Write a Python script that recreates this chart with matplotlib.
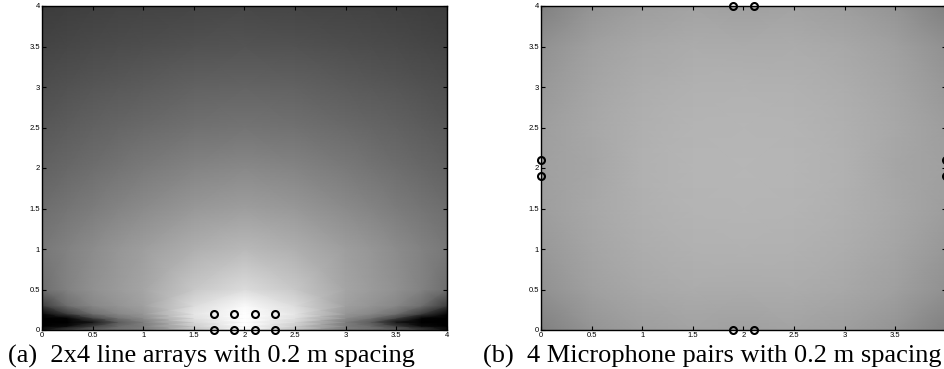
import numpy as np
import matplotlib
matplotlib.use("Agg")
import matplotlib.pyplot as plt

# grey level (0-255) of the intensity maps
xa = [0, 0.25, 0.5, 0.75, 1, 1.5, 2, 2.5, 3, 3.25, 3.5, 3.75, 4]
ya = [0, 0.05, 0.1, 0.15, 0.2, 0.3, 0.5, 1, 1.5, 2, 2.5, 3, 3.5, 4]
za = [
    [20, 70, 100, 115, 125, 195, 250, 195, 125, 115, 100, 70, 20],
    [0, 10, 60, 105, 125, 205, 255, 205, 125, 105, 60, 10, 0],
    [0, 0, 20, 90, 125, 215, 255, 215, 125, 90, 20, 0, 0],
    [0, 5, 70, 115, 140, 225, 255, 225, 140, 115, 70, 5, 0],
    [5, 60, 110, 135, 150, 230, 255, 230, 150, 135, 110, 60, 5],
    [60, 110, 135, 148, 160, 220, 250, 220, 160, 148, 135, 110, 60],
    [110, 130, 145, 155, 165, 200, 220, 200, 165, 155, 145, 130, 110],
    [120, 130, 140, 150, 158, 175, 185, 175, 158, 150, 140, 130, 120],
    [110, 117, 124, 132, 139, 152, 158, 152, 139, 132, 124, 117, 110],
    [98, 104, 110, 116, 122, 132, 137, 132, 122, 116, 110, 104, 98],
    [88, 93, 98, 102, 106, 113, 116, 113, 106, 102, 98, 93, 88],
    [78, 82, 86, 89, 92, 98, 100, 98, 92, 89, 86, 82, 78],
    [68, 71, 74, 76, 78, 82, 84, 82, 78, 76, 74, 71, 68],
    [60, 62, 64, 66, 67, 69, 71, 69, 67, 66, 64, 62, 60],
]

xb = [0, 0.5, 1, 1.5, 2, 2.5, 3, 3.5, 4]
yb = [0, 0.5, 1, 1.5, 2, 2.5, 3, 3.5, 4]
zb = [
    [128, 148, 158, 163, 160, 163, 158, 148, 128],
    [145, 160, 168, 172, 171, 172, 168, 160, 145],
    [152, 165, 173, 177, 178, 177, 173, 165, 152],
    [158, 168, 176, 180, 181, 180, 176, 168, 158],
    [160, 166, 177, 181, 182, 181, 177, 166, 160],
    [158, 168, 176, 180, 181, 180, 176, 168, 158],
    [152, 165, 173, 177, 178, 177, 173, 165, 152],
    [145, 160, 168, 172, 171, 172, 168, 160, 145],
    [128, 148, 158, 163, 160, 163, 158, 148, 128],
]

# microphone positions
mic_a_x = [1.7, 1.9, 2.1, 2.3, 1.7, 1.9, 2.1, 2.3]
mic_a_y = [0, 0, 0, 0, 0.2, 0.2, 0.2, 0.2]
mic_b_x = [1.9, 2.1, 1.9, 2.1, 0, 0, 4, 4]
mic_b_y = [0, 0, 4, 4, 1.9, 2.1, 1.9, 2.1]

ticks = [0, 0.5, 1, 1.5, 2, 2.5, 3, 3.5, 4]
tick_labels = ["0", "0.5", "1", "1.5", "2", "2.5", "3", "3.5", "4"]

captions = ["(a)  2x4 line arrays with 0.2 m spacing",
            "(b)  4 Microphone pairs with 0.2 m spacing"]

fig = plt.figure(figsize=(9.45, 3.69), dpi=100)
W, H = 945, 369
ax1 = fig.add_axes([42 / W, 39 / H, 405 / W, 324 / H])
ax2 = fig.add_axes([541 / W, 39 / H, 405 / W, 324 / H])

panels = [(ax1, xa, ya, za, mic_a_x, mic_a_y),
          (ax2, xb, yb, zb, mic_b_x, mic_b_y)]

for ax, x, y, z, mx, my in panels:
    ax.pcolormesh(x, y, np.array(z, dtype=float), shading="gouraud",
                  cmap="gray", vmin=0, vmax=255)
    ax.plot(mx, my, "o", ms=5, mfc="none", mec="black", mew=1.5,
            clip_on=False, zorder=5)
    ax.set_xlim(0, 4)
    ax.set_ylim(0, 4)
    ax.set_xticks(ticks)
    ax.set_xticklabels(tick_labels)
    ax.set_yticks(ticks)
    ax.set_yticklabels(tick_labels)
    ax.tick_params(direction="in", length=3, width=0.8, labelsize=5.5,
                   top=True, right=True, pad=1.5)
    for lab in ax.get_xticklabels() + ax.get_yticklabels():
        lab.set_family("Liberation Sans")
    for s in ax.spines.values():
        s.set_linewidth(1.0)

fig.text(8 / W, 1 - 363 / H, captions[0], family="Liberation Serif",
         fontsize=19, va="baseline")
fig.text(483 / W, 1 - 363 / H, captions[1], family="Liberation Serif",
         fontsize=19, va="baseline")

fig.savefig("out.png", dpi=100)
